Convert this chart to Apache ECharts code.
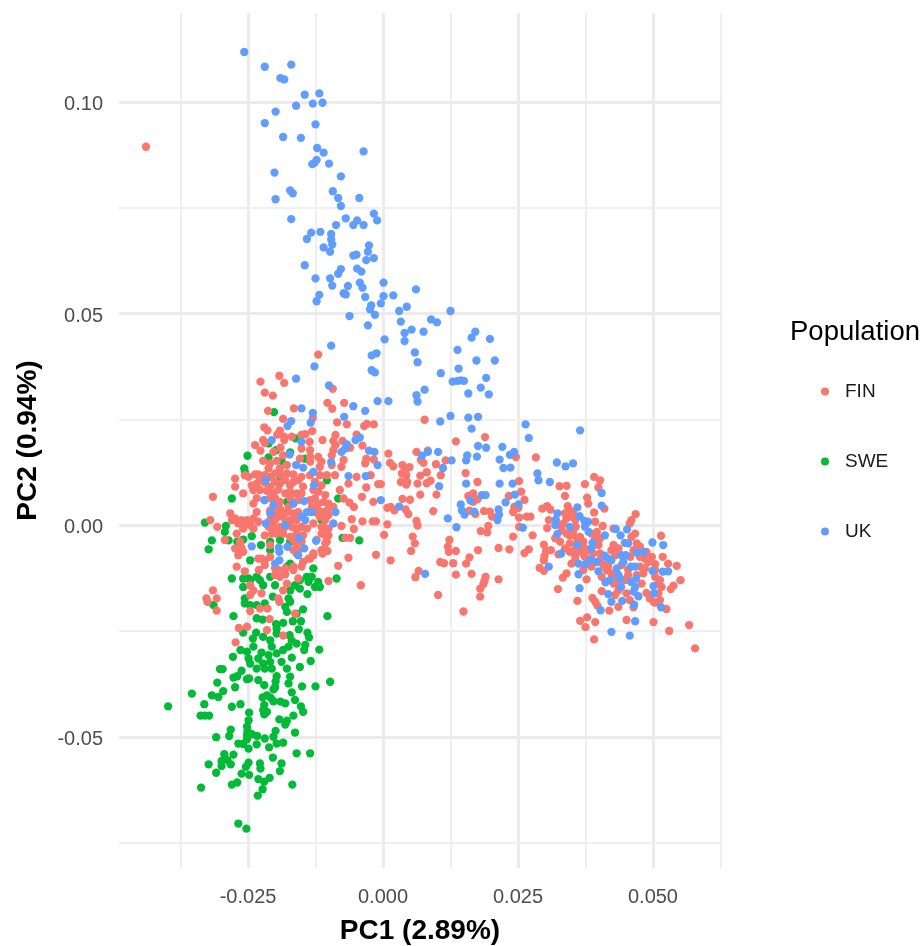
<!DOCTYPE html>
<html><head><meta charset="utf-8">
<style>html,body{margin:0;padding:0;background:#fff}#c{width:924px;height:946px}</style>
<script src="https://cdn.jsdelivr.net/npm/echarts@6/dist/echarts.min.js"></script>
</head><body><div id="c"></div>
<script>
const xTicks=[-0.025,0,0.025,0.05];
const yTicks=[-0.05,0,0.05,0.1];
const xMinor=[-0.0375,-0.0125,0.0125,0.0375,0.0625];
const yMinor=[-0.075,-0.025,0.025,0.075];
const legendNames=['FIN','SWE','UK'];
const UK=[[-0.0257,0.1118],[-0.0219,0.1083],[-0.0170,0.1088],[-0.0190,0.1056],[-0.0183,0.1053],[-0.0145,0.1017],[-0.0118,0.1020],[-0.0161,0.0991],[-0.0130,0.0996],[-0.0112,0.0998],[-0.0199,0.0977],[-0.0219,0.0950],[-0.0125,0.0947],[-0.0185,0.0917],[-0.0152,0.0915],[-0.0122,0.0891],[-0.0110,0.0880],[-0.0036,0.0883],[-0.0123,0.0863],[-0.0127,0.0856],[-0.0131,0.0853],[-0.0100,0.0854],[-0.0078,0.0824],[-0.0201,0.0833],[-0.0172,0.0791],[-0.0167,0.0784],[-0.0199,0.0770],[-0.0093,0.0789],[-0.0083,0.0773],[-0.0044,0.0773],[-0.0078,0.0754],[-0.0017,0.0736],[-0.0011,0.0720],[-0.0170,0.0723],[-0.0069,0.0725],[-0.0048,0.0720],[-0.0055,0.0709],[-0.0036,0.0709],[-0.0087,0.0709],[-0.0133,0.0691],[-0.0116,0.0693],[-0.0141,0.0676],[-0.0096,0.0688],[-0.0096,0.0675],[-0.0094,0.0663],[-0.0110,0.0656],[-0.0098,0.0646],[-0.0026,0.0661],[-0.0028,0.0646],[-0.0049,0.0639],[-0.0055,0.0637],[-0.0017,0.0631],[-0.0031,0.0626],[-0.0145,0.0614],[-0.0078,0.0605],[-0.0083,0.0594],[-0.0048,0.0606],[-0.0040,0.0599],[-0.0125,0.0583],[-0.0098,0.0583],[-0.0094,0.0566],[-0.0043,0.0573],[-0.0038,0.0561],[0.0001,0.0573],[-0.0065,0.0565],[0.0061,0.0557],[-0.0073,0.0548],[-0.0069,0.0545],[-0.0118,0.0544],[-0.0123,0.0529],[-0.0033,0.0539],[0.0001,0.0541],[0.0019,0.0543],[-0.0004,0.0524],[-0.0022,0.0519],[-0.0024,0.0510],[-0.0015,0.0497],[-0.0062,0.0494],[-0.0028,0.0472],[0.0003,0.0439],
[0.0044,0.0516],[0.0030,0.0506],[0.0125,0.0506],[0.0089,0.0486],[0.0100,0.0479],[0.0033,0.0481],[0.0053,0.0462],[0.0040,0.0454],[0.0075,0.0457],[0.0040,0.0435],[0.0171,0.0457],[0.0164,0.0443],[0.0198,0.0440],[0.0138,0.0414],[0.0059,0.0408],[0.0064,0.0385],[0.0173,0.0389],[0.0207,0.0389],[0.0140,0.0370],[0.0107,0.0359],[0.0191,0.0348],[0.0129,0.0339],[0.0138,0.0341],[0.0144,0.0342],[0.0150,0.0341],[0.0181,0.0325],[0.0077,0.0320],[0.0196,0.0309],[0.0158,0.0311],[0.0062,0.0307],[0.0064,0.0292],[0.0010,0.0293],[0.0125,0.0258],[0.0158,0.0254],[0.0176,0.0256],[0.0106,0.0245],[0.0164,0.0228],[0.0264,0.0238],[0.0270,0.0206],[0.0176,0.0187],[0.0191,0.0183],[0.0221,0.0185],[0.0243,0.0173],[0.0235,0.0166],[0.0083,0.0173],[0.0102,0.0173],[0.0072,0.0164],[0.0156,0.0165],[0.0174,0.0162],[0.0154,0.0153],[0.0127,0.0153],[0.0216,0.0155],[0.0111,0.0135],[0.0223,0.0135],[0.0236,0.0136],[0.0286,0.0122],[0.0288,0.0106],[0.0309,0.0102],[0.0154,0.0098],[0.0216,0.0098],[0.0240,0.0098],[0.0104,0.0092],[0.0183,0.0071],[0.0190,0.0071],[0.0244,0.0072],[0.0162,0.0058],[0.0227,0.0054],[0.0251,0.0049],[0.0144,0.0049],[0.0030,0.0044],[0.0146,0.0035],[0.0151,0.0025],[0.0169,0.0032],[0.0214,0.0037],[0.0215,0.0025],[0.0212,0.0012],[0.0120,0.0016],[0.0136,-0.0005],[0.0259,-0.0006],[0.0307,-0.0098],[0.0078,-0.0115],[-0.0004,0.0059],
[0.0365,0.0224],[0.0322,0.0148],[0.0338,0.0139],[0.0352,0.0146],[0.0405,0.0076],[0.0405,0.0046],[0.0360,0.0042],[0.0323,0.0028],[0.0320,0.0013],[0.0319,0],[0.0364,0.0021],[0.0373,0.0010],[0.0380,0.0008],[0.0346,-0.0004],[0.0374,-0.0004],[0.0381,-0.0016],[0.0323,-0.0021],[0.0431,-0.0009],[0.0452,-0.0010],[0.0440,-0.0024],[0.0411,-0.0024],[0.0499,-0.0041],[0.0519,-0.0047],[0.0448,-0.0042],[0.0454,-0.0043],[0.0388,-0.0042],[0.0386,-0.0055],[0.0360,-0.0047],[0.0470,-0.0065],[0.0483,-0.0063],[0.0442,-0.0071],[0.0450,-0.0071],[0.0330,-0.0067],[0.0411,-0.0072],[0.0417,-0.0079],[0.0385,-0.0081],[0.0375,-0.0092],[0.0362,-0.0091],[0.0396,-0.0087],[0.0423,-0.0083],[0.0445,-0.0087],[0.0459,-0.0098],[0.0467,-0.0098],[0.0433,-0.0102],[0.0399,-0.0109],[0.0499,-0.0108],[0.0518,-0.0110],[0.0528,-0.0109],[0.0362,-0.0116],[0.0436,-0.0118],[0.0439,-0.0126],[0.0469,-0.0126],[0.0420,-0.0130],[0.0412,-0.0135],[0.0459,-0.0134],[0.0467,-0.0146],[0.0501,-0.0144],[0.0364,-0.0149],[0.0441,-0.0146],[0.0464,-0.0157],[0.0502,-0.0161],[0.0417,-0.0163],[0.0473,-0.0168],[0.0423,-0.0181],[0.0443,-0.0179],[0.0465,-0.0188],[0.0515,-0.0194],[0.0403,-0.0201],[0.0467,-0.0227],[0.0423,-0.0252],[0.0457,-0.0261],
[-0.0096,0.0424],[-0.0021,0.0401],[-0.0012,0.0406],[-0.0127,0.0375],[-0.0021,0.0366],[-0.0015,0.0361],[-0.0161,0.0346],[-0.0100,0.0330],[-0.0010,0.0293],[-0.0055,0.0281],[-0.0151,0.0276],[-0.0033,0.0270],[-0.0130,0.0265],[-0.0072,0.0256],[-0.0170,0.0246],[-0.0134,0.0242],[-0.0177,0.0234],[-0.0206,0.0201],[-0.0151,0.0197],[-0.0043,0.0207],[-0.0051,0.0201],[-0.0067,0.0191],[-0.0070,0.0181],[-0.0077,0.0173],[-0.0026,0.0176],[-0.0016,0.0173],[-0.0173,0.0167],[-0.0096,0.0149],[-0.0161,0.0142],[-0.0148,0.0136],[-0.0010,0.0142],
[-0.0064,0.0116],[-0.0032,0.0116],[-0.0217,0.0106],[-0.0128,0.0094],[-0.0146,0.0057],[-0.0220,0.0059],[-0.0203,0.0047],[-0.0166,0.0051],[-0.0088,0.0031],[-0.0141,0.0031],[-0.0132,0.0031],[-0.0151,0.0020],[-0.0144,0.0012],[-0.0092,0.0004],[-0.0217,0.0004],[-0.0181,0],[-0.0155,-0.0031],[-0.0124,-0.0037],[-0.0177,-0.0051],[-0.0193,-0.0053],[-0.0192,-0.0063],[-0.0146,-0.0055],[-0.0157,-0.0071],[-0.0200,-0.0091],[-0.0192,-0.0083],[-0.0209,0.0028],[-0.0243,-0.0050],[-0.0129,0.0126]];
const FIN=[[-0.0439,0.0894],
[0.0077,0.0249],[0.0135,0.0198],[0.0189,0.0208],[0.0283,0.0160],[0.0246,0.0161],[0.0010,0.0169],[0.0062,0.0173],[0.0083,0.0176],[0.0013,0.0147],[0.0019,0.0139],[0.0070,0.0154],[0.0075,0.0147],[0.0116,0.0153],[0.0098,0.0144],[0.0036,0.0142],[0.0049,0.0137],[0.0041,0.0130],[0.0035,0.0122],[0.0043,0.0118],[0.0081,0.0125],[0.0069,0.0117],[0.0107,0.0118],[0.0153,0.0123],[0.0033,0.0102],[0.0045,0.0102],[0.0064,0.0098],[0.0081,0.0099],[0.0088,0.0105],[0.0043,0.0096],[0.0175,0.0102],[0.0252,0.0104],[-0.0004,0.0097],[0.0069,0.0072],[0.0099,0.0072],[0.0256,0.0079],[0.0233,0.0069],[0.0262,0.0060],[0.0036,0.0062],[0.0050,0.0060],[0.0158,0.0069],[0.0167,0.0075],[0.0175,0.0061],[0.0167,0.0055],[0.0008,0.0041],[0.0014,0.0043],[0.0021,0.0035],[0.0042,0.0037],[0.0047,0.0026],[0.0093,0.0033],[0.0160,0.0034],[0.0171,0.0026],[0.0187,0.0033],[0.0198,0.0032],[0.0243,0.0043],[0.0251,0.0041],[0.0241,0.0031],[0.0252,0.0018],[0.0202,0.0020],[0.0266,0.0020],[0.0273,0.0020],[0.0295,0.0039],[0.0304,0.0045],[0.0307,0.0012],[0.0062,0.0010],[0.0064,-0.0001],[0.0008,0.0002],[0.0195,-0.0002],[0.0252,-0.0004],[0.0304,-0.0007],[0.0181,-0.0014],[0.0193,-0.0017],[0.0002,-0.0023],[0.0055,-0.0027],[0.0277,-0.0024],[0.0241,-0.0027],[0.0123,-0.0035],[0.0059,-0.0043],[0.0120,-0.0051],[0.0298,-0.0046],[0.0052,-0.0061],[0.0122,-0.0063],[0.0135,-0.0061],[0.0176,-0.0059],[0.0214,-0.0054],[0.0234,-0.0057],[0.0270,-0.0057],[0.0262,-0.0066],[0.0302,-0.0061],[0.0299,-0.0073],[0.0160,-0.0076],[0.0014,-0.0083],[0.0298,-0.0083],[0.0106,-0.0087],[0.0113,-0.0090],[0.0130,-0.0090],[0.0154,-0.0091],[0.0290,-0.0101],[0.0298,-0.0108],[0.0066,-0.0108],[0.0164,-0.0115],[0.0135,-0.0117],[0.0060,-0.0123],[0.0190,-0.0122],[0.0188,-0.0131],[0.0214,-0.0128],[0.0186,-0.0139],[0.0180,-0.0150],[0.0102,-0.0165],[0.0180,-0.0169],[0.0149,-0.0204],
[0.0391,0.0114],[0.0402,0.0106],[0.0374,0.0097],[0.0327,0.0092],[0.0340,0.0093],[0.0399,0.0089],[0.0337,0.0069],[0.0378,0.0065],[0.0380,0.0051],[0.0310,0.0037],[0.0342,0.0045],[0.0346,0.0035],[0.0337,0.0028],[0.0352,0.0028],[0.0410,0.0039],[0.0391,0.0030],[0.0468,0.0026],[0.0460,0.0012],[0.0457,0.0004],[0.0393,0.0008],[0.0340,0.0016],[0.0356,0.0012],[0.0334,0.0004],[0.0407,-0.0002],[0.0357,-0.0004],[0.0331,-0.0012],[0.0340,-0.0020],[0.0352,-0.0016],[0.0396,-0.0016],[0.0427,-0.0008],[0.0467,-0.0020],[0.0460,-0.0028],[0.0319,-0.0031],[0.0359,-0.0031],[0.0402,-0.0031],[0.0515,-0.0025],[0.0328,-0.0039],[0.0346,-0.0043],[0.0371,-0.0039],[0.0337,-0.0055],[0.0427,-0.0047],[0.0423,-0.0059],[0.0470,-0.0043],[0.0476,-0.0051],[0.0436,-0.0055],[0.0399,-0.0047],[0.0365,-0.0051],[0.0380,-0.0059],[0.0311,-0.0059],[0.0325,-0.0069],[0.0346,-0.0063],[0.0368,-0.0063],[0.0356,-0.0073],[0.0374,-0.0075],[0.0402,-0.0067],[0.0464,-0.0059],[0.0488,-0.0063],[0.0498,-0.0075],[0.0518,-0.0075],[0.0349,-0.0091],[0.0386,-0.0098],[0.0408,-0.0094],[0.0485,-0.0079],[0.0528,-0.0091],[0.0544,-0.0096],[0.0476,-0.0098],[0.0504,-0.0092],[0.0371,-0.0106],[0.0414,-0.0106],[0.0454,-0.0105],[0.0423,-0.0114],[0.0482,-0.0114],[0.0340,-0.0114],[0.0333,-0.0124],[0.0377,-0.0128],[0.0405,-0.0122],[0.0504,-0.0122],[0.0470,-0.0118],[0.0551,-0.0130],[0.0513,-0.0130],[0.0448,-0.0130],[0.0427,-0.0138],[0.0479,-0.0138],[0.0516,-0.0146],[0.0538,-0.0143],[0.0533,-0.0151],[0.0324,-0.0151],[0.0436,-0.0154],[0.0405,-0.0156],[0.0488,-0.0160],[0.0430,-0.0165],[0.0510,-0.0161],[0.0388,-0.0172],[0.0494,-0.0173],[0.0360,-0.0179],[0.0393,-0.0181],[0.0504,-0.0183],[0.0457,-0.0177],[0.0397,-0.0190],[0.0436,-0.0193],[0.0464,-0.0194],[0.0525,-0.0198],[0.0419,-0.0202],[0.0378,-0.0218],[0.0451,-0.0224],[0.0365,-0.0226],[0.0393,-0.0229],[0.0501,-0.0229],[0.0375,-0.0241],[0.0567,-0.0236],[0.0530,-0.0250],[0.0391,-0.0270],[0.0578,-0.0291],
[0.0343,0.0028],[0.0349,0.0020],[0.0328,0],[0.0346,-0.0024],[0.0365,-0.0028],[0.0386,-0.0020],[0.0393,-0.0031],[0.0359,-0.0047],[0.0356,-0.0059],[0.0371,-0.0067],[0.0389,-0.0067],[0.0402,-0.0083],[0.0356,-0.0083],[0.0374,-0.0055],[0.0430,-0.0071],[0.0458,-0.0075],[0.0476,-0.0075],[0.0491,-0.0087],[0.0417,-0.0098],[0.0442,-0.0094],[0.0485,-0.0102],[0.0504,-0.0106],[0.0427,-0.0122],[0.0454,-0.0118],[0.0510,-0.0138],[0.0433,-0.0138],[0.0513,-0.0177],[0.0501,-0.0181],[0.0451,-0.0161],[0.0473,-0.0059],
[-0.0120,0.0403],[-0.0192,0.0353],[-0.0227,0.0339],[-0.0183,0.0336],[-0.0093,0.0322],[-0.0219,0.0313],[-0.0204,0.0306],[-0.0103,0.0289],[-0.0072,0.0289],[-0.0094,0.0275],[-0.0213,0.0270],[-0.0165,0.0276],[-0.0185,0.0251],[-0.0130,0.0253],[-0.0085,0.0243],[-0.0067,0.0238],[-0.0035,0.0234],[-0.0030,0.0239],[-0.0017,0.0238],[-0.0220,0.0231],[-0.0214,0.0224],[-0.0191,0.0223],[-0.0131,0.0222],[-0.0144,0.0215],[-0.0151,0.0213],[-0.0088,0.0213],[-0.0049,0.0214],[-0.0196,0.0214],[-0.0183,0.0209],[-0.0169,0.0209],[-0.0222,0.0201],[-0.0112,0.0201],[-0.0092,0.0199],[-0.0075,0.0199],[-0.0237,0.0189],[-0.0219,0.0194],[-0.0183,0.0201],[-0.0136,0.0197],[-0.0088,0.0189],[-0.0038,0.0188],[-0.0061,0.0183],[-0.0227,0.0176],[-0.0203,0.0173],[-0.0190,0.0183],[-0.0151,0.0181],[-0.0135,0.0177],[-0.0092,0.0177],[-0.0095,0.0165],[-0.0185,0.0165],[-0.0135,0.0161],[-0.0120,0.0161],[-0.0031,0.0157],[-0.0017,0.0155],[-0.0222,0.0152],[-0.0209,0.0146],[-0.0197,0.0152],[-0.0154,0.0157],[-0.0135,0.0150],[-0.0114,0.0150],[-0.0073,0.0154],[-0.0033,0.0146],[-0.0095,0.0142],[-0.0178,0.0142],[-0.0117,0.0138],[-0.0077,0.0138],[-0.0212,0.0134],[-0.0191,0.0134],
[-0.0315,0.0067],[-0.0274,0.0110],[-0.0256,0.0118],[-0.0237,0.0120],[-0.0274,0.0091],[-0.0259,0.0075],[-0.0243,0.0094],[-0.0228,0.0106],[-0.0209,0.0114],[-0.0178,0.0122],[-0.0157,0.0106],[-0.0135,0.0118],[-0.0117,0.0118],[-0.0104,0.0118],[-0.0089,0.0118],[-0.0049,0.0114],[-0.0023,0.0118],[-0.0064,0.0098],[-0.0031,0.0089],[-0.0009,0.0097],[-0.0080,0.0083],[-0.0039,0.0067],[-0.0073,0.0063],[-0.0018,0.0055],[-0.0062,0.0053],[-0.0054,0.0043],[-0.0101,0.0051],[-0.0110,0.0031],[-0.0092,0.0043],[-0.0240,0.0051],[-0.0228,0.0083],[-0.0209,0.0091],[-0.0191,0.0098],[-0.0172,0.0094],[-0.0148,0.0091],[-0.0129,0.0083],[-0.0203,0.0075],[-0.0181,0.0075],[-0.0160,0.0075],[-0.0135,0.0059],[-0.0120,0.0051],[-0.0219,0.0059],[-0.0191,0.0055],[-0.0166,0.0051],[-0.0234,0.0031],[-0.0209,0.0035],[-0.0178,0.0031],[-0.0126,0.0031],[-0.0283,0.0028],[-0.0280,0.0012],[-0.0268,0.0004],[-0.0320,0.0012],[-0.0307,-0.0004],[-0.0252,0.0012],[-0.0240,0.0016],[-0.0259,-0.0008],[-0.0240,-0.0008],[-0.0209,0.0012],[-0.0194,0.0020],[-0.0172,0.0012],[-0.0203,-0.0004],[-0.0181,-0.0004],[-0.0160,-0.0008],[-0.0141,-0.0008],[-0.0110,-0.0004],[-0.0129,0.0004],[-0.0107,0.0012],[-0.0101,-0.0008],[-0.0058,0.0014],[-0.0038,0.0009],[-0.0019,0.0009],[-0.0013,0.0009],[-0.0077,-0.0002],[-0.0054,-0.0009],[-0.0070,-0.0030],[-0.0061,-0.0030],[-0.0271,-0.0020],[-0.0265,-0.0039],[-0.0293,-0.0035],[-0.0219,-0.0024],[-0.0197,-0.0020],[-0.0172,-0.0028],[-0.0148,-0.0024],[-0.0107,-0.0024],[-0.0104,-0.0039],[-0.0123,-0.0035],[-0.0268,-0.0059],[-0.0259,-0.0063],[-0.0268,-0.0071],[-0.0160,-0.0047],[-0.0209,-0.0047],[-0.0114,-0.0059],[-0.0103,-0.0061],[-0.0112,-0.0067],[-0.0129,-0.0067],[-0.0160,-0.0067],[-0.0225,-0.0079],[-0.0209,-0.0075],[-0.0135,-0.0079],[-0.0148,-0.0087],[-0.0064,-0.0077],[-0.0013,-0.0070],[-0.0271,-0.0098],[-0.0219,-0.0094],[-0.0166,-0.0098],[-0.0083,-0.0096],[-0.0256,-0.0109],[-0.0230,-0.0106],[-0.0194,-0.0106],[-0.0191,-0.0122],[-0.0157,-0.0126],[-0.0101,-0.0132],[-0.0041,-0.0142],[-0.0246,-0.0142],[-0.0240,-0.0154],[-0.0225,-0.0161],[-0.0178,-0.0138],[-0.0185,-0.0154],[-0.0315,-0.0154],[-0.0327,-0.0173],[-0.0308,-0.0173],[-0.0246,-0.0165],[-0.0194,-0.0173],
[-0.0249,0.0114],[-0.0231,0.0120],[-0.0219,0.0118],[-0.0200,0.0122],[-0.0188,0.0118],[-0.0166,0.0120],[-0.0151,0.0114],[-0.0234,0.0098],[-0.0219,0.0100],[-0.0200,0.0102],[-0.0181,0.0106],[-0.0166,0.0102],[-0.0126,0.0102],[-0.0114,0.0094],[-0.0240,0.0083],[-0.0215,0.0081],[-0.0194,0.0084],[-0.0172,0.0079],[-0.0151,0.0075],[-0.0120,0.0079],[-0.0107,0.0071],[-0.0234,0.0064],[-0.0209,0.0064],[-0.0200,0.0064],[-0.0172,0.0064],[-0.0157,0.0059],[-0.0126,0.0063],[-0.0110,0.0055],[-0.0203,0.0039],[-0.0191,0.0039],[-0.0175,0.0043],[-0.0132,0.0043],[-0.0120,0.0035],[-0.0104,0.0035],[-0.0200,0.0028],[-0.0185,0.0024],[-0.0166,0.0028],[-0.0157,0.0031],[-0.0117,0.0020],[-0.0101,0.0024],[-0.0274,0.0016],[-0.0262,0.0012],[-0.0231,0.0008],[-0.0200,0.0012],[-0.0181,0.0012],[-0.0160,0.0012],[-0.0259,0.0004],[-0.0246,0],[-0.0212,-0.0004],[-0.0191,-0.0004],[-0.0169,-0.0004],[-0.0151,-0.0004],[-0.0114,-0.0004],[-0.0206,-0.0020],[-0.0185,-0.0020],[-0.0160,-0.0020],[-0.0114,-0.0020],[-0.0101,-0.0024],[-0.0166,-0.0035],[-0.0151,-0.0039],[-0.0107,-0.0043],[-0.0274,-0.0055],[-0.0262,-0.0053],[-0.0166,-0.0059],[-0.0157,-0.0059],[-0.0231,-0.0079],[-0.0219,-0.0083],[-0.0138,-0.0079],[-0.0129,-0.0071],[-0.0200,-0.0102],[-0.0181,-0.0102],[-0.0166,-0.0106],[-0.0151,-0.0098],[-0.0200,-0.0118],[-0.0181,-0.0116],
[-0.0325,-0.0181],[-0.0308,-0.0202],[-0.0246,-0.0203],[-0.0228,-0.0197],[-0.0214,-0.0197],[-0.0192,-0.0181],[-0.0210,-0.0222],[-0.0163,-0.0209],[-0.0267,-0.0243],[-0.0252,-0.0240],[-0.0215,-0.0248],[-0.0185,-0.0261],[-0.0273,-0.0277]];
const SWE=[[-0.0251,0.0164],[-0.0257,0.0134],[-0.0202,0.0267],[-0.0162,0.0205],[-0.0212,0.0160],[-0.0198,0.0177],[-0.0172,0.0172],[-0.0188,0.0152],[-0.0212,0.0193],[-0.0144,0.0157],
[-0.0280,0.0063],[-0.0330,0.0006],[-0.0291,-0.0002],[-0.0293,-0.0016],[-0.0317,-0.0036],[-0.0323,-0.0057],[-0.0286,-0.0036],[-0.0270,-0.0039],[-0.0243,-0.0026],[-0.0259,-0.0034],[-0.0044,-0.0036],[-0.0075,-0.0030],[-0.0226,-0.0047],[-0.0209,-0.0039],[-0.0191,-0.0035],[-0.0172,-0.0039],[-0.0246,-0.0083],[-0.0172,-0.0091],[-0.0129,-0.0102],[-0.0086,-0.0126],[-0.0280,-0.0126],[-0.0259,-0.0126],[-0.0246,-0.0130],[-0.0228,-0.0130],[-0.0259,-0.0146],[-0.0209,-0.0122],[-0.0200,-0.0142],[-0.0141,-0.0122],[-0.0120,-0.0134],[-0.0138,-0.0134],[-0.0126,-0.0146],[-0.0154,-0.0150],[-0.0172,-0.0154],[-0.0140,-0.0163],[-0.0256,-0.0173],[-0.0204,-0.0169],[-0.0175,-0.0173],[-0.0114,0.0012],[-0.0178,0.0055],[-0.0191,0.0106],[-0.0256,0.0126],[-0.0104,0.0106],[-0.0083,0.0063],[-0.0209,-0.0059],[-0.0178,-0.0098],
[-0.0234,-0.0122],[-0.0222,-0.0142],[-0.0154,-0.0130],[-0.0163,-0.0142],[-0.0132,-0.0122],[-0.0117,-0.0146],[-0.0197,-0.0114],[-0.0249,-0.0126],
[-0.0314,-0.0189],[-0.0277,-0.0215],[-0.0256,-0.0185],[-0.0246,-0.0189],[-0.0234,-0.0189],[-0.0219,-0.0185],[-0.0181,-0.0193],[-0.0172,-0.0181],[-0.0178,-0.0205],[-0.0148,-0.0199],[-0.0160,-0.0209],[-0.0103,-0.0215],[-0.0234,-0.0220],[-0.0223,-0.0223],[-0.0198,-0.0234],[-0.0185,-0.0231],[-0.0167,-0.0227],[-0.0152,-0.0227],[-0.0197,-0.0244],[-0.0156,-0.0246],[-0.0197,-0.0256],[-0.0259,-0.0254],[-0.0235,-0.0254],[-0.0140,-0.0254],[-0.0137,-0.0265],[-0.0241,-0.0268],[-0.0222,-0.0264],[-0.0209,-0.0272],[-0.0173,-0.0260],[-0.0169,-0.0273],[-0.0160,-0.0280],[-0.0240,-0.0287],[-0.0206,-0.0287],[-0.0175,-0.0287],[-0.0144,-0.0283],[-0.0146,-0.0295],[-0.0118,-0.0294],[-0.0264,-0.0295],[-0.0252,-0.0299],[-0.0185,-0.0295],[-0.0225,-0.0301],[-0.0212,-0.0307],[-0.0197,-0.0303],[-0.0278,-0.0311],[-0.0249,-0.0315],[-0.0231,-0.0315],[-0.0169,-0.0313],[-0.0246,-0.0327],[-0.0222,-0.0327],[-0.0209,-0.0323],[-0.0188,-0.0323],[-0.0134,-0.0321],[-0.0234,-0.0339],[-0.0206,-0.0339],[-0.0219,-0.0339],[-0.0178,-0.0339],[-0.0154,-0.0335],[-0.0302,-0.0340],[-0.0297,-0.0340],[-0.0262,-0.0344],[-0.0252,-0.0364],[-0.0248,-0.0362],[-0.0277,-0.0360],[-0.0270,-0.0357],[-0.0231,-0.0366],[-0.0197,-0.0357],[-0.0172,-0.0358],[-0.0175,-0.0374],[-0.0199,-0.0369],[-0.0220,-0.0378],[-0.0307,-0.0372],[-0.0274,-0.0383],[-0.0200,-0.0383],[-0.0203,-0.0388],[-0.0150,-0.0381],[-0.0125,-0.0381],[-0.0098,-0.0370],[-0.0354,-0.0398],[-0.0169,-0.0395],[-0.0296,-0.0392],[-0.0305,-0.0406],[-0.0317,-0.0402],[-0.0223,-0.0407],[-0.0215,-0.0402],[-0.0208,-0.0408],[-0.0203,-0.0416],[-0.0163,-0.0413],[-0.0190,-0.0417],[-0.0181,-0.0421],[-0.0398,-0.0428],[-0.0331,-0.0423],[-0.0280,-0.0429],[-0.0264,-0.0423],[-0.0220,-0.0425],[-0.0152,-0.0428],[-0.0222,-0.0437],[-0.0148,-0.0441],[-0.0215,-0.0441],[-0.0220,-0.0447],[-0.0248,-0.0443],[-0.0338,-0.0450],[-0.0330,-0.0450],[-0.0322,-0.0450],[-0.0166,-0.0450],[-0.0249,-0.0461],[-0.0192,-0.0459],[-0.0178,-0.0462],[-0.0181,-0.0471],[-0.0252,-0.0476],[-0.0251,-0.0487],[-0.0282,-0.0483],[-0.0199,-0.0486],[-0.0163,-0.0490],[-0.0285,-0.0498],[-0.0309,-0.0501],[-0.0252,-0.0496],[-0.0243,-0.0494],[-0.0233,-0.0498],[-0.0219,-0.0504],[-0.0203,-0.0500],[-0.0252,-0.0506],[-0.0268,-0.0516],[-0.0259,-0.0517],[-0.0197,-0.0516],[-0.0185,-0.0514],[-0.0234,-0.0518],[-0.0211,-0.0525],[-0.0249,-0.0528],[-0.0160,-0.0539],[-0.0135,-0.0539],[-0.0277,-0.0542],[-0.0294,-0.0541],[-0.0204,-0.0549],[-0.0299,-0.0557],[-0.0288,-0.0555],[-0.0323,-0.0565],[-0.0299,-0.0569],[-0.0282,-0.0565],[-0.0249,-0.0561],[-0.0254,-0.0571],[-0.0228,-0.0563],[-0.0227,-0.0575],[-0.0188,-0.0563],[-0.0191,-0.0581],[-0.0309,-0.0585],[-0.0262,-0.0587],[-0.0248,-0.0590],[-0.0210,-0.0597],[-0.0231,-0.0600],[-0.0220,-0.0606],[-0.0270,-0.0608],[-0.0280,-0.0613],[-0.0168,-0.0613],[-0.0337,-0.0620],[-0.0223,-0.0624],[-0.0232,-0.0639],[-0.0268,-0.0705],[-0.0253,-0.0717]];

const GRID='#ebebeb', FONT='"Liberation Sans", Arial, sans-serif';
const gridLines=[
  ...xTicks.map(v=>({xAxis:v,lineStyle:{width:3,color:GRID,type:'solid'}})),
  ...xMinor.map(v=>({xAxis:v,lineStyle:{width:2,color:'#efefef',type:'solid'}})),
  ...yTicks.map(v=>({yAxis:v,lineStyle:{width:3,color:GRID,type:'solid'}})),
  ...yMinor.map(v=>({yAxis:v,lineStyle:{width:2,color:'#efefef',type:'solid'}}))
];
const pts=(name,data,color,z)=>({name,type:'scatter',data,symbolSize:8.3,z,itemStyle:{color,opacity:1},silent:true});
const chart=echarts.init(document.getElementById('c'),null,{renderer:'canvas'});
chart.setOption({
  animation:false,backgroundColor:'#fff',
  grid:{left:119,right:203,top:13,bottom:78,containLabel:false,outerBoundsMode:'none'},
  title:{text:'Population',left:790,top:318,textStyle:{fontFamily:FONT,fontSize:27.5,fontWeight:'normal',color:'#000'},padding:0},
  legend:{data:legendNames,orient:'vertical',left:821,top:382,itemWidth:8,itemHeight:8,itemGap:51,icon:'circle',padding:0,
    textStyle:{fontFamily:FONT,fontSize:19,color:'#1a1a1a',padding:[0,0,0,11]},selectedMode:false},
  xAxis:{type:'value',min:-0.0489,max:0.0626,name:'PC1 (2.89%)',nameLocation:'middle',nameGap:49,
    nameTextStyle:{fontFamily:FONT,fontSize:28,fontWeight:'bold',color:'#000'},
    axisLine:{show:false},axisTick:{show:false},splitLine:{show:false},
    axisLabel:{customValues:xTicks,margin:19,fontFamily:FONT,fontSize:20,color:'#4d4d4d',formatter:v=>v.toFixed(3)}},
  yAxis:{type:'value',min:-0.081,max:0.121,name:'PC2 (0.94%)',nameLocation:'middle',nameGap:77,
    nameTextStyle:{fontFamily:FONT,fontSize:28,fontWeight:'bold',color:'#000'},
    axisLine:{show:false},axisTick:{show:false},splitLine:{show:false},
    axisLabel:{customValues:yTicks,margin:16,formatter:v=>'{t|'+v.toFixed(2)+'}',
      rich:{t:{fontFamily:FONT,fontSize:20,color:'#4d4d4d',padding:[5,0,0,0]}}}},
  series:[
    {name:'grid',type:'scatter',data:[],z:1,silent:true,markLine:{silent:true,z:1,precision:6,symbol:'none',label:{show:false},emphasis:{disabled:true},animation:false,data:gridLines}},
    pts('SWE',SWE,'#00BA38',2),
    pts('FIN',FIN,'#F8766D',3),
    pts('UK',UK,'#619CFF',4)
  ]
});
</script></body></html>
